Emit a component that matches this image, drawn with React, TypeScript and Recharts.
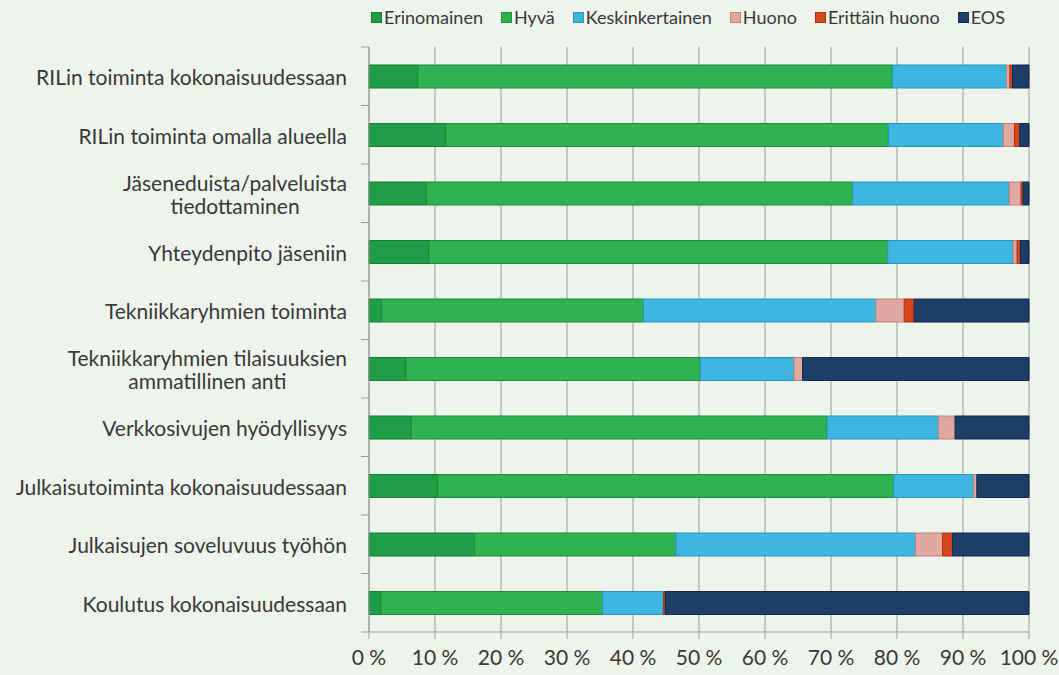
import { BarChart, Bar, XAxis, YAxis, CartesianGrid, Legend } from 'recharts';

const categories = [
  'RILin toiminta kokonaisuudessaan',
  'RILin toiminta omalla alueella',
  'Jäseneduista/palveluista\ntiedottaminen',
  'Yhteydenpito jäseniin',
  'Tekniikkaryhmien toiminta',
  'Tekniikkaryhmien tilaisuuksien\nammatillinen anti',
  'Verkkosivujen hyödyllisyys',
  'Julkaisutoiminta kokonaisuudessaan',
  'Julkaisujen soveluvuus työhön',
  'Koulutus kokonaisuudessaan',
];

const erinomainen = [7.4, 11.6, 8.7, 9.1, 1.9, 5.6, 6.4, 10.4, 16.0, 1.8];
const hyva = [71.9, 67.1, 64.6, 69.5, 39.7, 44.6, 63.0, 69.1, 30.5, 33.6];
const keskinkertainen = [17.3, 17.4, 23.7, 19.0, 35.2, 14.2, 16.9, 12.1, 36.3, 9.2];
const huono = [0.5, 1.7, 1.8, 0.6, 4.3, 1.3, 2.5, 0.5, 4.1, 0];
const erittainHuono = [0.4, 0.8, 0.3, 0.5, 1.5, 0, 0, 0, 1.5, 0.3];
const eos = [2.5, 1.4, 0.9, 1.3, 17.4, 34.3, 11.2, 7.9, 11.6, 55.1];

const xTicks = [0, 0.1, 0.2, 0.3, 0.4, 0.5, 0.6, 0.7, 0.8, 0.9, 1];

const series = [
  { key: 'Erinomainen', fill: '#1f9d47', stroke: '#167a36' },
  { key: 'Hyvä', fill: '#2fb351', stroke: '#1f8a3c' },
  { key: 'Keskinkertainen', fill: '#3db7e1', stroke: '#2a95b8' },
  { key: 'Huono', fill: '#e1a7a1', stroke: '#b9837e' },
  { key: 'Erittäin huono', fill: '#d7471d', stroke: '#a93613' },
  { key: 'EOS', fill: '#1b3f68', stroke: '#102b4b' },
];

const data = categories.map((name, i) => ({
  name,
  Erinomainen: erinomainen[i],
  'Hyvä': hyva[i],
  Keskinkertainen: keskinkertainen[i],
  Huono: huono[i],
  'Erittäin huono': erittainHuono[i],
  EOS: eos[i],
}));

const FONT = 'Lato, "Open Sans", sans-serif';
const FONT_SIZE = 21;
const TEXT = '#383838';
const AXIS = '#9a9a9a';

const W = 1059;
const H = 675;
const M = { top: 47, right: 30, bottom: 0, left: 0 };
const X_AXIS_H = 43;
const Y_AXIS_W = 369;
const BAND = (H - M.top - M.bottom - X_AXIS_H) / categories.length;

let canvas: HTMLCanvasElement | null = null;
function measure(s: string) {
  if (!canvas) canvas = document.createElement('canvas');
  const ctx = canvas.getContext('2d');
  if (!ctx) return s.length * 9;
  ctx.font = `${FONT_SIZE}px ${FONT}`;
  return ctx.measureText(s).width;
}

function CategoryTick(props: any) {
  const { x, y, payload, index } = props;
  const lines: string[] = String(payload.value).split('\n');
  const right = x - 14;
  const axisX = x + 8;
  const widest = Math.max(...lines.map(measure));
  const cx = right - widest / 2;
  const lh = 23;
  const startY = y - ((lines.length - 1) * lh) / 2;
  return (
    <g>
      <line x1={axisX - 8} x2={axisX} y1={y - BAND / 2} y2={y - BAND / 2} stroke={AXIS} />
      {index === categories.length - 1 && (
        <line x1={axisX - 8} x2={axisX} y1={y + BAND / 2} y2={y + BAND / 2} stroke={AXIS} />
      )}
      <text
        x={lines.length > 1 ? cx : right}
        y={startY}
        textAnchor={lines.length > 1 ? 'middle' : 'end'}
        dominantBaseline="central"
        fontFamily={FONT}
        fontSize={FONT_SIZE}
        fill={TEXT}
      >
        {lines.map((l, i) => (
          <tspan key={i} x={lines.length > 1 ? cx : right} dy={i === 0 ? 0 : lh}>
            {l}
          </tspan>
        ))}
      </text>
    </g>
  );
}

function LegendContent() {
  return (
    <div
      style={{
        display: 'flex',
        gap: 18,
        fontFamily: FONT,
        fontSize: 18,
        color: TEXT,
        lineHeight: '24px',
        whiteSpace: 'nowrap',
      }}
    >
      {series.map((s) => (
        <div key={s.key} style={{ display: 'flex', alignItems: 'center', gap: 2 }}>
          <span
            style={{
              display: 'inline-block',
              width: 11,
              height: 11,
              background: s.fill,
              border: `1px solid ${s.stroke}`,
              boxSizing: 'border-box',
            }}
          />
          <span>{s.key}</span>
        </div>
      ))}
    </div>
  );
}

export default function App() {
  return (
    <div style={{ position: 'absolute', left: 0, top: 0, width: W, height: H, background: '#eef4ec' }}>
      <BarChart
        width={W}
        height={H}
        data={data}
        layout="vertical"
        stackOffset="expand"
        margin={M}
        barSize={23}
      >
        <CartesianGrid horizontal={false} stroke={AXIS} strokeWidth={1} />
        <XAxis
          type="number"
          domain={[0, 1]}
          ticks={xTicks}
          tickFormatter={(v: number) => `${Math.round(v * 100)} %`}
          height={X_AXIS_H}
          tickSize={7}
          tickMargin={11}
          stroke={AXIS}
          tick={{ fill: TEXT, fontFamily: FONT, fontSize: FONT_SIZE }}
          interval={0}
        />
        <YAxis
          type="category"
          dataKey="name"
          width={Y_AXIS_W}
          tick={<CategoryTick />}
          tickLine={false}
          stroke={AXIS}
          interval={0}
        />
        <Legend
          verticalAlign="middle"
          align="center"
          content={<LegendContent />}
          wrapperStyle={{ top: 5, left: 371, width: 680 }}
        />
        {series.map((s) => (
          <Bar
            key={s.key}
            dataKey={s.key}
            stackId="a"
            fill={s.fill}
            stroke={s.stroke}
            strokeWidth={1}
            isAnimationActive={false}
          />
        ))}
      </BarChart>
    </div>
  );
}
